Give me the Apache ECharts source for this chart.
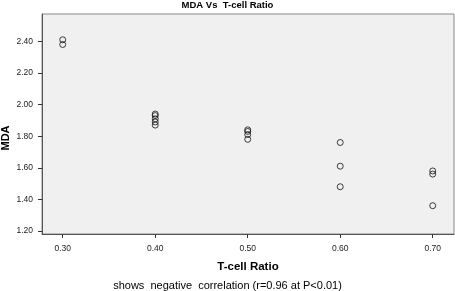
<!DOCTYPE html>
<html>
<head>
<meta charset="utf-8">
<script src="https://cdn.jsdelivr.net/npm/echarts@6/dist/echarts.min.js"></script>
<style>
  html, body { margin: 0; padding: 0; background: #fff; }
  #chart { width: 455px; height: 291px; }
</style>
</head>
<body>
<div id="chart"></div>
<script>
// T-cell ratio (x) and MDA (y) per observation
const tcellRatio = [0.30, 0.30, 0.40, 0.40, 0.40, 0.40, 0.40, 0.50, 0.50, 0.50, 0.50, 0.60, 0.60, 0.60, 0.70, 0.70, 0.70];
const mda = [2.41, 2.38, 1.94, 1.93, 1.91, 1.89, 1.87, 1.84, 1.83, 1.81, 1.78, 1.76, 1.61, 1.48, 1.58, 1.56, 1.36];
const xTicks = [0.30, 0.40, 0.50, 0.60, 0.70];
const yTicks = [1.20, 1.40, 1.60, 1.80, 2.00, 2.20, 2.40];

const font = 'Liberation Sans, Arial, sans-serif';
const points = tcellRatio.map((x, i) => [x, mda[i]]);

let myChart = echarts.init(document.getElementById('chart'));
myChart.setOption({
  animation: false,
  title: {
    text: 'MDA Vs  T-cell Ratio',
    left: 'center',
    top: 0,
    padding: [0, 0, 0, 0],
    textStyle: { fontFamily: font, fontSize: 9.5, fontWeight: 'bold', color: '#000' }
  },
  graphic: [{
    type: 'text',
    left: 'center',
    top: 280,
    style: {
      text: 'shows  negative  correlation (r=0.96 at P<0.01)',
      font: '11px ' + font,
      fill: '#000'
    }
  }, {
    // y axis title sits a little below the middle in the original
    type: 'text',
    x: 0,
    y: 138,
    rotation: Math.PI / 2,
    style: {
      text: 'MDA',
      font: 'bold 11px ' + font,
      fill: '#000',
      align: 'center',
      verticalAlign: 'top'
    }
  }],
  grid: {
    left: 42, top: 14, right: 1, bottom: 57,
    outerBoundsMode: 'none',
    containLabel: false,
    show: true,
    backgroundColor: '#f0f0f0',
    borderColor: '#888',
    borderWidth: 1
  },
  xAxis: {
    type: 'value',
    min: 0.2776,
    max: 0.723,
    name: 'T-cell Ratio',
    nameLocation: 'middle',
    nameGap: 27,
    nameTextStyle: { fontFamily: font, fontSize: 11.5, fontWeight: 'bold', color: '#000' },
    splitLine: { show: false },
    axisLine: { lineStyle: { color: '#555', width: 1 } },
    axisTick: { customValues: xTicks, length: 4, lineStyle: { color: '#333' } },
    axisLabel: {
      customValues: xTicks,
      formatter: v => v.toFixed(2),
      fontFamily: font, fontSize: 8.5, color: '#222', margin: 10
    }
  },
  yAxis: {
    type: 'value',
    min: 1.181,
    max: 2.573,
    splitLine: { show: false },
    axisLine: { lineStyle: { color: '#555', width: 1 } },
    axisTick: { customValues: yTicks, length: 4, lineStyle: { color: '#333' } },
    axisLabel: {
      customValues: yTicks,
      formatter: v => v.toFixed(2),
      fontFamily: font, fontSize: 8.5, color: '#222', margin: 9
    }
  },
  series: [{
    type: 'scatter',
    data: points,
    symbol: 'circle',
    symbolSize: 6,
    itemStyle: { color: 'transparent', borderColor: '#111', borderWidth: 1 }
  }]
});

window.addEventListener('resize', function() {
  myChart.resize();
});
</script>
</body>
</html>
